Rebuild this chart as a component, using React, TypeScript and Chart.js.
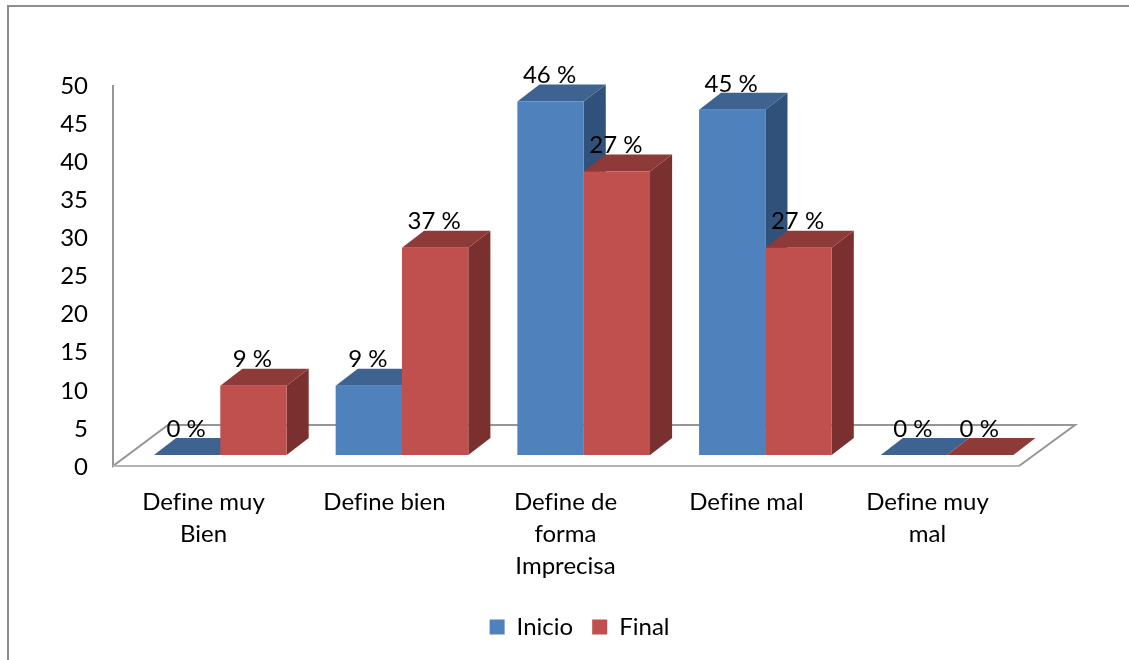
import React, { useEffect, useRef } from "react";
import { Chart, registerables } from "chart.js";

Chart.register(...registerables);

const categories = [["Define muy", "Bien"], ["Define bien"], ["Define de", "forma", "Imprecisa"], ["Define mal"], ["Define muy", "mal"]];
const inicioValues = [0, 9.1, 46.4, 45.3, 0];
const finalValues = [9.1, 27.2, 37.2, 27.2, 0];
const inicioLabels = ["0 %", "9 %", "46 %", "45 %", "0 %"];
const finalLabels = ["9 %", "37 %", "27 %", "27 %", "0 %"];

const FONT = "Lato";
const FS = 24;
const BAR = [
  { front: "#4F81BD", top: "#3E6390", side: "#305179" },
  { front: "#C0504D", top: "#8E3A38", side: "#7A302E" },
];
const DX = 22, DY = 17;
const SHIFT_X = 16, SHIFT_Y = -11, SX = 1.00387;

const poly = (ctx: any, pts: number[][], fill: string) => {
  ctx.beginPath();
  pts.forEach((p, i) => (i ? ctx.lineTo(p[0], p[1]) : ctx.moveTo(p[0], p[1])));
  ctx.closePath();
  ctx.fillStyle = fill;
  ctx.fill();
};

const scene = {
  id: "scene",
  beforeDraw(chart: any) {
    const { ctx, chartArea: a, width } = chart;
    ctx.letterSpacing = "0.01px";
    ctx.save();
    ctx.strokeStyle = "#8e8e8e";
    ctx.lineWidth = 2;
    ctx.beginPath();
    ctx.moveTo(8, chart.height);
    ctx.lineTo(8, 6);
    ctx.lineTo(width, 6);
    ctx.stroke();
    // wall and floor
    ctx.strokeStyle = "#969696";
    ctx.lineWidth = 2;
    ctx.beginPath();
    ctx.moveTo(a.left, a.top);
    ctx.lineTo(a.left, a.bottom);
    ctx.lineTo(a.left + 55, a.bottom - 41);
    ctx.lineTo(a.right + 57, a.bottom - 41);
    ctx.lineTo(a.right + 1, a.bottom);
    ctx.stroke();
    ctx.strokeStyle = "#b4b4b4";
    ctx.beginPath();
    ctx.moveTo(a.left, a.bottom);
    ctx.lineTo(a.right + 1, a.bottom);
    ctx.stroke();
    ctx.restore();
  },
  beforeDatasetsDraw(chart: any) {
    const { ctx } = chart;
    ctx.save();
    ctx.translate(SHIFT_X, SHIFT_Y);
    ctx.scale(SX, 1);
    const n = chart.data.labels.length;
    for (let i = 0; i < n; i++) {
      [0, 1].forEach((d) => {
        const el = chart.getDatasetMeta(d).data[i];
        const l = el.x - el.width / 2, r = el.x + el.width / 2, t = el.y, b = el.base;
        if (b - t > 0.5) poly(ctx, [[r, t], [r + DX, t - DY], [r + DX, b - DY], [r, b]], BAR[d].side);
        poly(ctx, [[l, t], [l + DX, t - DY], [r + DX, t - DY], [r, t]], BAR[d].top);
      });
    }
  },
  afterDatasetsDraw(chart: any) {
    const { ctx } = chart;
    ctx.restore();
    ctx.save();
    ctx.font = `${FS}px ${FONT}`;
    ctx.fillStyle = "#000";
    ctx.textAlign = "center";
    ctx.textBaseline = "middle";
    [inicioLabels, finalLabels].forEach((labels, d) => {
      labels.forEach((txt, i) => {
        const el = chart.getDatasetMeta(d).data[i];
        ctx.fillText(txt, el.x * SX + SHIFT_X - 1, el.y + SHIFT_Y - 26);
      });
    });
    ctx.restore();
  },
};

export default function App() {
  const ref = useRef<HTMLCanvasElement>(null);
  useEffect(() => {
    const chart = new Chart(ref.current as HTMLCanvasElement, {
      type: "bar",
      data: {
        labels: categories as any,
        datasets: [
          { label: "Inicio", data: inicioValues, backgroundColor: BAR[0].front },
          { label: "Final", data: finalValues, backgroundColor: BAR[1].front },
        ],
      },
      options: {
        responsive: false,
        animation: false,
        layout: { padding: { top: 85, left: 30, right: 0, bottom: 11 } },
        datasets: { bar: { barPercentage: 1, categoryPercentage: 0.73 } },
        plugins: {
          tooltip: { enabled: false },
          legend: {
            position: "bottom",
            labels: {
              boxWidth: 15,
              boxHeight: 15,
              padding: 19,
              color: "#000",
              font: { family: FONT, size: FS },
            },
          },
        },
        scales: {
          x: {
            grid: { display: false, drawTicks: false },
            border: { display: false },
            ticks: {
              autoSkip: false,
              maxRotation: 0,
              minRotation: 0,
              padding: 20,
              color: "#000",
              font: { family: FONT, size: FS, lineHeight: 32 / FS },
            },
            afterFit: (s: any) => { s.height = 130; },
          },
          y: {
            min: 0,
            max: 50,
            grid: { display: false, drawTicks: false },
            border: { display: false },
            ticks: { stepSize: 5, padding: 25, labelOffset: 1, color: "#000", font: { family: FONT, size: FS } },
            afterFit: (s: any) => { s.width = 83; },
          },
          pad: {
            type: "linear",
            position: "right",
            grid: { display: false, drawTicks: false },
            border: { display: false },
            ticks: { display: false },
            afterFit: (s: any) => { s.width = 111; },
          },
        },
      } as any,
      plugins: [scene],
    });
    return () => chart.destroy();
  }, []);
  return (
    <div style={{ position: "fixed", left: 0, top: 0, width: 1129, height: 660 }}>
      <canvas ref={ref} width={1129} height={660} style={{ display: "block" }} />
    </div>
  );
}
